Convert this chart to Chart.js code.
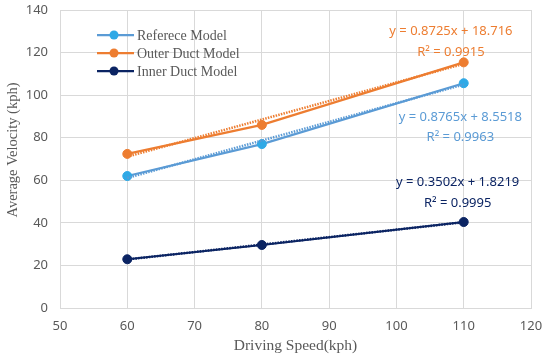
<!DOCTYPE html>
<html>
<head>
<meta charset="utf-8">
<script src="https://cdn.jsdelivr.net/npm/chart.js@4"></script>
<style>
  html, body { margin: 0; padding: 0; background: #fff; }
  #wrap { width: 550px; height: 360px; position: relative; }
</style>
</head>
<body>
<div id="wrap"><canvas id="chart" width="550" height="360"></canvas></div>
<script>
// values
const speeds = [60, 80, 110];
const referenceModel = [62.0, 77.0, 105.6];
const outerDuctModel = [72.4, 86.0, 115.4];
const innerDuctModel = [22.9, 29.6, 40.4];

// trendline end points (x = 60 and 110)
const trendX = [60, 110];
const referenceTrend = [61.1, 105.0];
const outerTrend = [71.1, 114.7];
const innerTrend = [22.8, 40.3];

const xTicks = [50, 60, 70, 80, 90, 100, 110, 120];
const yTicks = [0, 20, 40, 60, 80, 100, 120, 140];

const seriesNames = ["Referece Model", "Outer Duct Model", "Inner Duct Model"];
const lineColors = ["#5B9BD5", "#ED7D31", "#0B2463"];
const dotColors = ["#2FA9E6", "#ED7D31", "#0B2463"];

// equation labels: text, anchor in data units
const equations = [
  { lines: ["y = 0.8725x + 18.716", "R² = 0.9915"], x: 108.1, y: [130.1, 120.3], color: lineColors[1] },
  { lines: ["y = 0.8765x + 8.5518", "R² = 0.9963"], x: 109.5, y: [89.7, 80.3], color: lineColors[0] },
  { lines: ["y = 0.3502x + 1.8219", "R² = 0.9995"], x: 109.1, y: [59.2, 49.3], color: lineColors[2] }
];

const pts = (xs, ys) => xs.map((x, i) => ({ x: x, y: ys[i] }));

function mainSet(i, values) {
  return {
    label: seriesNames[i],
    data: pts(speeds, values),
    borderColor: lineColors[i],
    backgroundColor: dotColors[i],
    pointBackgroundColor: dotColors[i],
    pointBorderColor: dotColors[i],
    borderWidth: 2.25,
    pointRadius: 4.5,
    pointBorderWidth: 1,
    tension: 0,
    order: 2
  };
}

function trendSet(i, values) {
  return {
    label: "trend",
    data: pts(trendX, values),
    borderColor: lineColors[i],
    borderWidth: 2.5,
    borderDash: [1.5, 1.2],
    borderCapStyle: "butt",
    pointRadius: 0,
    tension: 0,
    order: 1
  };
}

const serif = "'Liberation Serif', 'DejaVu Serif', serif";
const sans = "'Noto Sans', 'Open Sans', sans-serif";

const legendPlugin = {
  id: "insideLegend",
  afterDraw(chart) {
    const ctx = chart.ctx;
    const area = chart.chartArea;
    const left = area.left + 37;
    const top = area.top + 25;
    ctx.save();
    seriesNames.forEach((name, i) => {
      const y = top + i * 18;
      ctx.strokeStyle = lineColors[i];
      ctx.lineWidth = 2.25;
      ctx.beginPath();
      ctx.moveTo(left, y);
      ctx.lineTo(left + 37, y);
      ctx.stroke();
      ctx.fillStyle = dotColors[i];
      ctx.beginPath();
      ctx.arc(left + 17, y, 4.5, 0, Math.PI * 2);
      ctx.fill();
      ctx.fillStyle = "#595959";
      ctx.font = "14px " + serif;
      ctx.textBaseline = "middle";
      ctx.textAlign = "left";
      ctx.fillText(name, left + 40, y + 1);
    });
    // y axis title, sits a little above the middle as in the picture
    ctx.translate(13, (area.top + area.bottom) / 2 - 9);
    ctx.rotate(-Math.PI / 2);
    ctx.textAlign = "center";
    ctx.font = "14.5px " + serif;
    ctx.fillText("Average Velocity (kph)", 0, 0);
    ctx.restore();
  }
};

const equationPlugin = {
  id: "equations",
  afterDatasetsDraw(chart) {
    const ctx = chart.ctx;
    const xs = chart.scales.x;
    const ys = chart.scales.y;
    ctx.save();
    ctx.font = "13px " + sans;
    ctx.textAlign = "center";
    ctx.textBaseline = "middle";
    equations.forEach((eq) => {
      ctx.fillStyle = eq.color;
      eq.lines.forEach((t, k) => {
        ctx.fillText(t, xs.getPixelForValue(eq.x), ys.getPixelForValue(eq.y[k]));
      });
    });
    ctx.restore();
  }
};

const gridColor = "#D9D9D9";
const tickFont = { family: sans, size: 13 };
const titleFont = { family: serif, size: 15.5 };

new Chart(document.getElementById("chart"), {
  type: "line",
  data: {
    datasets: [
      mainSet(0, referenceModel),
      mainSet(1, outerDuctModel),
      mainSet(2, innerDuctModel),
      trendSet(0, referenceTrend),
      trendSet(1, outerTrend),
      trendSet(2, innerTrend)
    ]
  },
  options: {
    responsive: false,
    animation: false,
    layout: { padding: { left: 0, right: 19, top: 10, bottom: 0 } },
    plugins: {
      legend: { display: false },
      tooltip: { enabled: false }
    },
    scales: {
      x: {
        type: "linear",
        min: 50,
        max: 120,
        afterBuildTicks: (s) => { s.ticks = xTicks.map((v) => ({ value: v })); },
        afterFit: (s) => { s.height = 52; s.paddingLeft = 0; s.paddingRight = 0; },
        grid: { color: gridColor, lineWidth: 1, drawTicks: false },
        border: { color: gridColor },
        ticks: { color: "#595959", font: tickFont, padding: 10 },
        title: { display: true, text: "Driving Speed(kph)", color: "#595959", font: titleFont, padding: { top: 1, bottom: 5 } }
      },
      y: {
        type: "linear",
        min: 0,
        max: 140,
        afterBuildTicks: (s) => { s.ticks = yTicks.map((v) => ({ value: v })); },
        afterFit: (s) => { s.width = 60; s.paddingTop = 0; s.paddingBottom = 0; },
        grid: { color: gridColor, lineWidth: 1, drawTicks: false },
        border: { color: gridColor },
        ticks: { color: "#595959", font: tickFont, padding: 12 }
      }
    }
  },
  plugins: [legendPlugin, equationPlugin]
});
</script>
</body>
</html>
